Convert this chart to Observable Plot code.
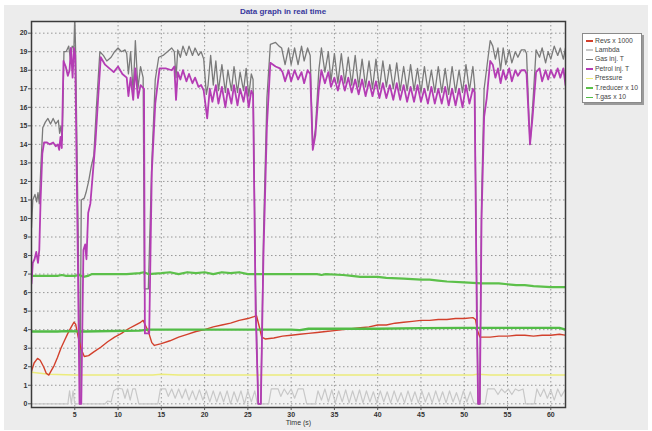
<!DOCTYPE html>
<html>
<head>
<meta charset="utf-8">
<script src="https://cdn.jsdelivr.net/npm/d3@7"></script>
<script src="https://cdn.jsdelivr.net/npm/@observablehq/plot@0.6"></script>
<style>
  html, body { margin: 0; padding: 0; background: #ffffff; }
  #wrap { position: relative; width: 652px; height: 431px; overflow: hidden; font-family: "Liberation Sans", Arial, sans-serif; }
  #bg { position: absolute; left: 4px; top: 5px; width: 644px; height: 425px; background: #ececec; }
  #chart { position: absolute; left: 0; top: 0; }
  #title { position: absolute; left: 0; top: 7px; width: 566px; text-align: center; font-weight: bold; font-size: 8px; color: #38389c; }
  #legend { position: absolute; left: 582px; top: 33px; width: 58px; height: 68px; background: #ffffff; border: 1px solid #8a8a8a; box-shadow: 2px 2px 0 #9a9a9a; }
  .li { position: absolute; left: 3px; height: 9px; font-size: 6.8px; color: #444; white-space: nowrap; line-height: 9px; }
  .sw { display: inline-block; width: 7px; height: 1.6px; vertical-align: middle; margin-right: 2px; }
</style>
</head>
<body>
<div id="wrap">
  <div id="bg"></div>
  <div id="chart"></div>
  <div id="title">Data graph in real time</div>
  <div id="legend"></div>
</div>
<script>
// ---------- data ----------
const chartTitle = "Data graph in real time";
const xLabel = "Time (s)";
const xTicks = [5, 10, 15, 20, 25, 30, 35, 40, 45, 50, 55, 60];
const yTicks = [0, 1, 2, 3, 4, 5, 6, 7, 8, 9, 10, 11, 12, 13, 14, 15, 16, 17, 18, 19, 20];
const seriesNames = ["Revs x 1000", "Lambda", "Gas inj. T", "Petrol inj. T", "Pressure", "T.reducer x 10", "T.gas x 10"];

const revsT = [0.0,0.3,0.7,1.0,1.4,1.7,2.0,2.3,2.6,3.0,3.4,3.8,4.2,4.6,4.9,5.1,5.4,5.7,6.1,6.6,7.2,8.0,8.8,9.6,10.4,11.2,12.0,12.6,12.9,13.2,13.5,13.9,14.2,15.0,16.0,17.0,18.0,19.0,20.0,21.0,22.0,23.0,24.0,25.0,25.7,26.0,26.3,26.6,27.0,28.0,29.0,30.0,31.0,32.0,33.0,34.0,35.0,36.0,37.0,38.0,39.0,40.0,41.0,42.0,43.0,44.0,45.0,46.0,47.0,48.0,49.0,50.0,51.0,51.3,51.5,51.8,53.0,54.0,55.0,56.0,57.0,58.0,59.0,60.0,61.0,61.7];
const revsV = [1.75,2.2,2.45,2.35,2.0,1.65,1.55,1.8,2.05,2.5,3.0,3.4,3.8,4.15,4.4,4.3,3.6,3.0,2.55,2.6,2.8,3.05,3.35,3.6,3.8,4.05,4.25,4.4,4.5,4.2,3.9,3.3,3.15,3.25,3.4,3.6,3.75,3.9,4.0,4.15,4.25,4.35,4.5,4.6,4.7,4.75,4.2,3.6,3.5,3.55,3.65,3.7,3.75,3.8,3.85,3.9,3.95,4.0,4.05,4.1,4.15,4.25,4.25,4.35,4.4,4.45,4.5,4.5,4.55,4.55,4.6,4.6,4.65,4.55,4.0,3.6,3.6,3.65,3.65,3.7,3.7,3.65,3.7,3.7,3.75,3.7];

const lambdaT = [0,4.2,4.4,4.6,4.8,5.0,8.5,8.8,9.2,9.5,10.0,10.5,10.8,11.1,11.4,11.7,12.0,12.4,14.6,14.9,15.5,15.8,16.2,16.6,17.0,17.4,17.8,18.2,18.6,19.0,19.4,19.8,20.2,20.6,21.0,21.4,21.8,22.2,22.6,23.0,23.4,23.8,24.2,24.6,25.0,25.4,25.8,26.1,27.4,27.7,28.5,28.8,29.2,29.6,30.0,30.4,30.8,31.4,31.8,32.8,33.1,33.5,33.9,34.3,34.7,35.1,35.5,35.9,36.3,36.7,37.1,37.5,37.9,38.3,38.7,39.1,39.5,39.9,40.3,40.7,41.1,41.5,41.9,42.3,42.7,43.1,43.5,43.9,44.3,44.7,45.1,45.5,45.9,46.3,46.7,47.1,47.5,47.9,48.3,48.7,49.1,49.5,49.9,50.3,50.7,51.1,51.4,52.4,52.7,53.5,53.9,54.3,54.7,55.1,55.5,55.9,56.3,56.8,57.1,58.1,58.4,58.8,59.2,59.6,60.0,60.4,60.8,61.2,61.7];
const lambdaV = [0,0,0.7,0,0.7,0,0,0.15,0.1,0.7,0.85,0.8,0.3,0.8,0.2,0.8,0.8,0,0,0.8,0.8,0.4,0.8,0.3,0.8,0.3,0.8,0.2,0.7,0.2,0.75,0.2,0.7,0.1,0.7,0.1,0.65,0.1,0.7,0,0.65,0.1,0.7,0,0.7,0.1,0.7,0,0,0.8,0.8,0.4,0.8,0.5,0.8,0.3,0.8,0.8,0,0,0.7,0.2,0.8,0.1,0.75,0.05,0.7,0.1,0.75,0.05,0.7,0.1,0.75,0.05,0.7,0.1,0.65,0.05,0.7,0.1,0.65,0.05,0.7,0.1,0.6,0.05,0.7,0.1,0.65,0.05,0.7,0.1,0.6,0.05,0.7,0.1,0.65,0.05,0.7,0.1,0.6,0.05,0.7,0.1,0.65,0.05,0,0,0.8,0.8,0.5,0.8,0.6,0.8,0.5,0.8,0.7,0.8,0,0,0.8,0.4,0.8,0.3,0.75,0.2,0.8,0.4,0.8];

const gasT = [0.0,0.15,0.4,0.6,0.75,0.9,1.1,1.3,1.6,1.9,2.2,2.5,2.8,3.1,3.25,3.4,3.55,3.75,4.0,4.3,4.5,4.7,4.9,5.0,5.1,5.4,5.6,5.75,6.1,6.3,6.6,6.9,7.2,7.5,7.9,8.3,8.7,9.2,9.6,10.0,10.4,10.8,11.0,11.2,11.45,11.75,12.0,12.3,12.6,12.9,13.05,13.5,13.9,14.3,14.7,15.2,15.7,16.2,16.5,16.7,16.9,17.2,17.5,17.9,18.2,18.6,18.9,19.3,19.6,19.9,20.2,20.4,20.7,21.0,21.3,21.6,22.0,22.4,22.7,23.1,23.4,23.8,24.1,24.5,24.8,25.1,25.4,25.6,25.9,26.2,26.5,26.8,27.2,27.6,28.2,28.6,28.9,29.3,29.7,30.0,30.4,30.8,31.2,31.5,31.9,32.2,32.5,32.8,33.2,33.5,33.9,34.3,34.6,35.0,35.4,35.8,36.2,36.6,37.0,37.4,37.8,38.2,38.6,39.0,39.4,39.8,40.2,40.6,41.0,41.4,41.8,42.2,42.6,43.0,43.4,43.8,44.2,44.6,45.0,45.4,45.8,46.2,46.6,47.0,47.4,47.8,48.2,48.6,49.0,49.4,49.8,50.2,50.6,51.0,51.2,51.45,51.6,51.8,52.0,52.3,52.7,53.0,53.3,53.6,53.9,54.2,54.5,54.8,55.2,55.5,55.9,56.2,56.6,57.0,57.2,57.6,57.9,58.3,58.7,59.0,59.4,59.7,60.0,60.4,60.8,61.1,61.45,61.7];
const gasV = [9.5,11.0,11.3,10.9,11.4,10.8,13.0,14.9,15.2,15.4,15.1,15.4,15.1,15.3,14.6,15.0,14.2,19.0,19.0,19.3,18.6,19.3,19.2,20.9,19.0,9.0,0,11.0,11.1,11.4,12.0,12.8,13.4,16.0,19.0,18.8,18.5,18.7,19.0,19.2,19.0,19.1,18.9,17.8,19.0,16.8,19.6,17.0,18.2,17.6,6.2,6.2,13.0,17.5,18.7,18.8,19.0,19.2,19.0,17.6,19.1,18.7,19.3,18.8,19.3,18.8,19.2,18.8,19.0,18.6,16.7,17.2,18.8,17.2,18.5,16.9,18.3,16.8,18.0,16.9,18.2,16.8,17.9,16.9,18.1,16.6,17.8,17.5,6.0,0,0,9.0,16.5,19.4,19.5,19.3,19.2,18.3,19.2,18.3,19.2,18.3,19.3,18.5,19.2,18.8,13.8,14.8,18.0,19.2,17.9,19.0,17.4,18.9,17.3,18.9,17.3,18.7,17.2,18.8,17.1,18.6,17.1,18.5,17.0,18.6,17.0,18.5,17.1,18.3,17.0,18.4,16.9,18.2,16.9,18.3,16.9,18.1,16.8,18.2,16.9,18.0,16.8,18.2,16.8,18.1,16.7,18.2,16.8,18.0,16.8,18.3,16.9,18.2,17.2,6.0,0,0,11.0,17.0,18.5,19.6,19.3,18.6,19.2,18.0,19.2,18.3,19.1,18.4,19.0,18.7,19.1,19.1,18.9,14.0,16.0,19.1,18.7,19.2,18.4,19.0,18.6,19.3,18.8,19.2,18.6,19.2];

const petrolT = [0.0,0.15,0.35,0.55,0.75,0.9,1.05,1.25,1.45,1.8,2.1,2.5,2.8,3.05,3.2,3.35,3.5,3.7,3.95,4.2,4.4,4.55,4.75,4.9,5.05,5.35,5.55,5.75,6.0,6.2,6.35,6.55,6.8,7.1,7.4,7.7,8.0,8.5,9.0,9.5,10.0,10.5,11.0,11.2,11.45,11.75,12.0,12.3,12.6,13.0,13.1,13.6,13.9,14.3,14.8,15.5,16.2,16.5,16.7,16.9,17.2,17.5,17.9,18.2,18.6,18.9,19.3,19.6,19.9,20.3,20.6,20.9,21.3,21.6,22.0,22.4,22.7,23.1,23.4,23.8,24.1,24.5,24.8,25.1,25.4,25.6,25.9,26.2,26.5,26.8,27.2,27.6,28.2,28.7,29.0,29.3,29.7,30.0,30.4,30.8,31.2,31.5,31.9,32.2,32.5,32.8,33.2,33.5,33.9,34.3,34.6,35.0,35.4,35.8,36.2,36.6,37.0,37.4,37.8,38.2,38.6,39.0,39.4,39.8,40.2,40.6,41.0,41.4,41.8,42.2,42.6,43.0,43.4,43.8,44.2,44.6,45.0,45.4,45.8,46.2,46.6,47.0,47.4,47.8,48.2,48.6,49.0,49.4,49.8,50.2,50.6,51.0,51.2,51.45,51.6,51.8,52.0,52.3,52.6,53.0,53.3,53.6,53.9,54.2,54.5,54.8,55.2,55.5,55.9,56.2,56.6,57.0,57.2,57.6,57.9,58.3,58.7,59.0,59.4,59.7,60.0,60.4,60.8,61.1,61.45,61.7];
const petrolV = [6.5,7.6,7.8,8.2,7.6,8.3,11.0,13.5,14.1,14.1,14.0,14.1,13.9,14.0,13.7,14.4,13.8,18.5,18.2,17.7,18.0,19.2,17.6,19.2,18.8,8.0,0,0,8.3,8.6,7.8,10.3,10.8,12.5,14.2,16.5,18.7,18.3,18.1,17.9,18.2,17.8,17.6,16.6,17.6,16.4,18.1,16.5,17.2,17.0,3.8,3.8,12.5,16.2,18.1,18.1,18.0,18.2,16.4,17.9,17.5,18.0,17.4,17.8,17.3,17.6,17.1,17.2,16.9,15.4,17.0,16.3,17.2,16.2,17.1,16.0,17.0,16.2,17.2,16.1,17.0,16.3,17.1,16.0,16.9,16.7,5.0,0,0,8.0,15.0,18.4,18.2,18.1,17.9,17.4,18.0,17.4,18.0,17.5,17.9,17.3,18.0,17.8,13.7,14.5,17.0,18.0,17.3,17.9,17.1,17.6,16.9,17.7,16.9,17.6,16.8,17.5,16.7,17.5,16.6,17.4,16.6,17.4,16.5,17.3,16.5,17.2,16.4,17.3,16.4,17.2,16.3,17.1,16.3,17.2,16.3,17.0,16.2,17.1,16.2,17.0,16.2,17.1,16.1,17.0,16.1,17.0,16.0,17.2,16.2,17.0,16.8,5.0,0,0,10.0,15.5,16.5,18.5,18.3,17.6,18.1,17.3,18.0,17.5,18.1,17.4,18.0,17.7,18.0,18.0,17.8,14.0,15.5,17.9,18.1,17.4,18.0,17.5,18.0,17.6,18.1,17.6,18.1,17.2];

const pressureT = [0,1,2,5,10,14,15,17,25,30,40,51,51.5,53,61.7];
const pressureV = [1.7,1.65,1.6,1.55,1.55,1.55,1.6,1.55,1.55,1.55,1.55,1.55,1.6,1.55,1.55];

const reducerT = [0,3,3.5,4,5,5.5,6,6.5,7,9,11,12.5,13,13.5,15,16,17,18,19,20,21,22,23,24,25,28,31,33,33.5,34,36,37,38,40,41,43,45,46,47,48,50,52,54,55,56,57,58,60,61.7];
const reducerV = [6.9,6.9,6.95,6.9,6.9,6.95,6.85,6.9,7.0,7.0,7.0,7.05,7.1,7.0,7.05,7.1,7.0,7.1,7.05,7.1,7.0,7.1,7.05,7.1,7.0,7.0,7.0,7.0,6.95,7.0,6.95,6.9,6.85,6.85,6.8,6.75,6.7,6.7,6.65,6.6,6.55,6.5,6.5,6.45,6.4,6.4,6.35,6.3,6.3];

const tgasT = [0,3,4,6,12.5,13.5,20,30,31,32,40,45,50,55,61,61.7];
const tgasV = [3.9,3.9,3.92,3.9,3.95,4.0,4.0,4.0,3.98,4.05,4.05,4.08,4.1,4.1,4.1,4.0];

// ---------- styles ----------
const colors = {
  revs: "#d2402c", lambda: "#c8c8c8", gas: "#7a7a7a", petrol: "#b43cb4",
  pressure: "#ecec7c", reducer: "#5cc04a", tgas: "#52bc46"
};
const widths = { revs: 1.4, lambda: 1.2, gas: 1.3, petrol: 1.8, pressure: 1.5, reducer: 2.2, tgas: 2.3 };

const toRows = (T, V) => T.map((t, i) => ({t, v: V[i]}));
const drawOrder = [
  ["lambda", lambdaT, lambdaV],
  ["pressure", pressureT, pressureV],
  ["gas", gasT, gasV],
  ["revs", revsT, revsV],
  ["reducer", reducerT, reducerV],
  ["tgas", tgasT, tgasV],
  ["petrol", petrolT, petrolV]
];

const chart = Plot.plot({
  width: 652,
  height: 431,
  marginLeft: 31,
  marginRight: 87,
  marginTop: 21,
  marginBottom: 24,
  style: { background: "transparent", fontFamily: "Liberation Sans, Arial, sans-serif" },
  x: { domain: [0, 61.7] },
  y: { domain: [-0.2, 20.63] },
  marks: [
    Plot.frame({ fill: "#f2f2f2", stroke: null }),
    Plot.gridY(yTicks, { stroke: "#7a7a7a", strokeOpacity: 0.75, strokeDasharray: "1.5,2.5" }),
    Plot.gridX(xTicks, { stroke: "#7a7a7a", strokeOpacity: 0.75, strokeDasharray: "1.5,2.5" }),
    ...drawOrder.map(([k, T, V]) => Plot.line(toRows(T, V), {
      x: "t", y: "v", stroke: colors[k], strokeWidth: widths[k], clip: true, strokeLinejoin: "round"
    })),
    Plot.frame({ stroke: "#3c3c3c", strokeWidth: 1.5 }),
    Plot.axisY(yTicks, { tickSize: 3, tickPadding: 1, fontSize: 7, fontWeight: "bold", fill: "#333", stroke: "#555", label: null }),
    Plot.axisX(xTicks, { tickSize: 3, tickPadding: 2, fontSize: 7, fontWeight: "bold", fill: "#333", stroke: "#555", label: null }),
    Plot.text([xLabel], { frameAnchor: "bottom", dy: 17, fontSize: 7, fill: "#333", text: d => d })
  ]
});
document.getElementById("chart").appendChild(chart);
document.getElementById("title").textContent = chartTitle;

// ---------- legend ----------
const legendKeys = ["revs", "lambda", "gas", "petrol", "pressure", "reducer", "tgas"];
const leg = document.getElementById("legend");
seriesNames.forEach((name, i) => {
  const row = document.createElement("div");
  row.className = "li";
  row.style.top = (1.5 + i * 9.45) + "px";
  const sw = document.createElement("span");
  sw.className = "sw";
  sw.style.background = colors[legendKeys[i]];
  row.appendChild(sw);
  row.appendChild(document.createTextNode(name));
  leg.appendChild(row);
});
</script>
</body>
</html>
